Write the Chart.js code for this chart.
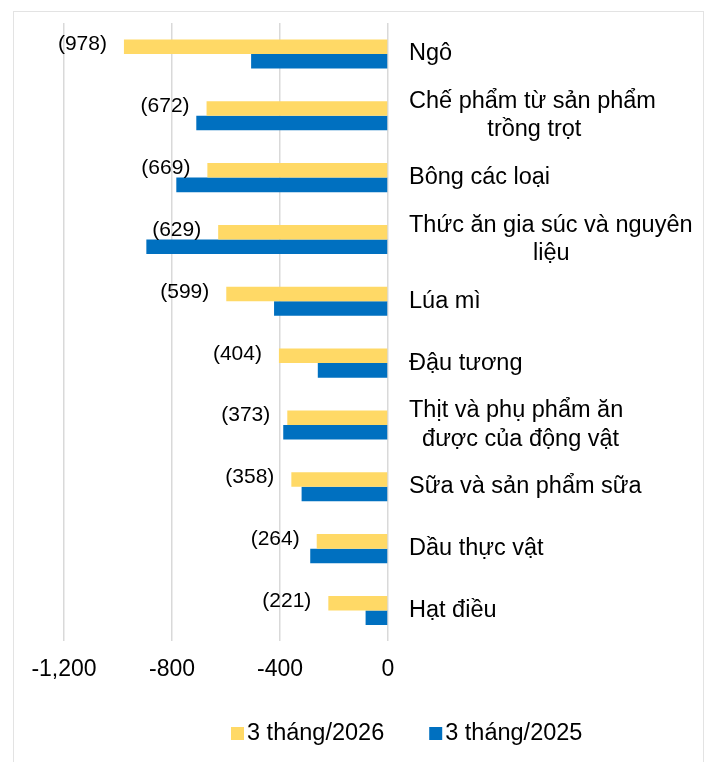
<!DOCTYPE html>
<html>
<head>
<meta charset="utf-8">
<script src="https://cdn.jsdelivr.net/npm/chart.js@4.4.1/dist/chart.umd.min.js"></script>
<style>
  body { margin: 0; background: #fff; }
  #wrap { position: relative; width: 706px; height: 762px; }
  #frame { position: absolute; left: 13px; top: 11px; width: 689px; height: 760px; border: 1px solid #e3e3e3; }
  #chart { position: absolute; left: 0; top: 0; }
</style>
</head>
<body>
<div id="wrap">
  <div id="frame"></div>
  <canvas id="chart" width="706" height="762"></canvas>
</div>
<script>
const categories = [
  ["Ngô"],
  ["Chế phẩm từ sản phẩm", "            trồng trọt"],
  ["Bông các loại"],
  ["Thức ăn gia súc và nguyên", "                   liệu"],
  ["Lúa mì"],
  ["Đậu tương"],
  ["Thịt và phụ phẩm ăn", "  được của động vật"],
  ["Sữa và sản phẩm sữa"],
  ["Dầu thực vật"],
  ["Hạt điều"]
];
const values2026 = [-978, -672, -669, -629, -599, -404, -373, -358, -264, -221];
const values2025 = [-507, -710, -784, -895, -422, -260, -388, -320, -288, -83];
const xTicks = [-1200, -800, -400, 0];
const seriesNames = ["3 tháng/2026", "3 tháng/2025"];
const colors = ["#FFD966", "#0070C0"];

const FONT = "'Liberation Sans', Arial, sans-serif";

// numbers in brackets, left of the yellow bars
const valueLabels = {
  id: "valueLabels",
  afterDatasetsDraw(chart) {
    const ctx = chart.ctx;
    const meta = chart.getDatasetMeta(0);
    ctx.save();
    ctx.font = "21px " + FONT;
    ctx.fillStyle = "#000";
    ctx.textAlign = "right";
    ctx.textBaseline = "middle";
    meta.data.forEach((bar, i) => {
      ctx.fillText("(" + Math.abs(values2026[i]) + ")", bar.x - 17, bar.y - 2);
    });
    ctx.restore();
  }
};

// legend drawn by hand so the box/text gap matches
const bottomLegend = {
  id: "bottomLegend",
  afterDraw(chart) {
    const ctx = chart.ctx;
    ctx.save();
    ctx.font = "23.5px " + FONT;
    ctx.textBaseline = "middle";
    let x = 231;
    const y = 734;
    chart.data.datasets.forEach(ds => {
      ctx.fillStyle = ds.backgroundColor;
      ctx.fillRect(x, y - 7, 13, 13);
      ctx.fillStyle = "#000";
      ctx.fillText(ds.label, x + 16, y);
      x += 16 + ctx.measureText(ds.label).width + 45;
    });
    ctx.restore();
  }
};

new Chart(document.getElementById("chart"), {
  type: "bar",
  data: {
    labels: categories,
    datasets: [
      { label: seriesNames[0], data: values2026, backgroundColor: colors[0] },
      { label: seriesNames[1], data: values2025, backgroundColor: colors[1] }
    ]
  },
  options: {
    indexAxis: "y",
    responsive: false,
    animation: false,
    categoryPercentage: 0.47,
    barPercentage: 1,
    layout: { padding: { left: 64, right: 0, top: 23, bottom: 65 } },
    plugins: { legend: { display: false }, tooltip: { enabled: false } },
    scales: {
      x: {
        min: -1200,
        max: 0,
        afterBuildTicks: s => { s.ticks = xTicks.map(v => ({ value: v })); },
        afterFit: s => { s.paddingLeft = 0; s.paddingRight = 0; },
        grid: { color: "#d9d9d9", lineWidth: 1.5, drawTicks: false },
        border: { display: false },
        ticks: {
          color: "#000",
          font: { family: FONT, size: 23 },
          padding: 14,
          callback: v => v.toLocaleString("en-US")
        }
      },
      y: {
        position: "right",
        grid: { display: false, drawTicks: false },
        border: { display: false },
        afterFit: s => { s.width = 318; s.paddingTop = 0; s.paddingBottom = 0; },
        ticks: {
          color: "#000",
          font: { family: FONT, size: 23.5 },
          padding: 21
        }
      }
    }
  },
  plugins: [valueLabels, bottomLegend]
});
</script>
</body>
</html>
